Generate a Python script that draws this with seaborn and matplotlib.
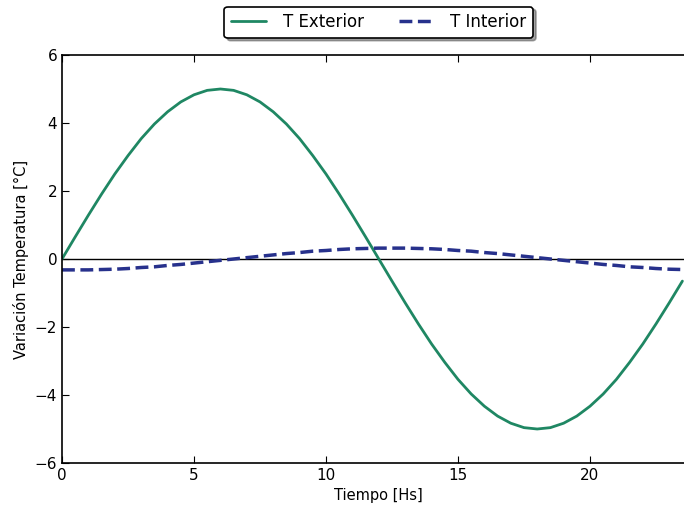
import numpy as np
import pandas as pd
import matplotlib
matplotlib.use("Agg")
import matplotlib.pyplot as plt
import seaborn as sns

# hora del dia, cada media hora
horas = np.arange(0, 24, 0.5)

t_exterior = [0.00, 0.65, 1.29, 1.91, 2.50, 3.04, 3.54, 3.97, 4.33, 4.62, 4.83, 4.96,
              5.00, 4.96, 4.83, 4.62, 4.33, 3.97, 3.54, 3.04, 2.50, 1.91, 1.29, 0.65,
              0.00, -0.65, -1.29, -1.91, -2.50, -3.04, -3.54, -3.97, -4.33, -4.62, -4.83, -4.96,
              -5.00, -4.96, -4.83, -4.62, -4.33, -3.97, -3.54, -3.04, -2.50, -1.91, -1.29, -0.65]

t_interior = [-0.32, -0.32, -0.32, -0.31, -0.30, -0.28, -0.25, -0.23, -0.19, -0.16, -0.12, -0.08,
              -0.04, 0.00, 0.04, 0.08, 0.12, 0.16, 0.19, 0.23, 0.25, 0.28, 0.30, 0.31,
              0.32, 0.32, 0.32, 0.31, 0.30, 0.28, 0.25, 0.23, 0.19, 0.16, 0.12, 0.08,
              0.04, 0.00, -0.04, -0.08, -0.12, -0.16, -0.19, -0.23, -0.25, -0.28, -0.30, -0.31]

df = pd.DataFrame({'hora': horas, 'ext': t_exterior, 'int': t_interior})

sns.set_style("ticks")
plt.rcParams['font.family'] = ['DejaVu Sans']
plt.rcParams['xtick.direction'] = 'in'
plt.rcParams['ytick.direction'] = 'in'
plt.rcParams['text.color'] = 'black'
plt.rcParams['axes.labelcolor'] = 'black'
plt.rcParams['xtick.labelcolor'] = 'black'
plt.rcParams['ytick.labelcolor'] = 'black'

fig = plt.figure(figsize=(6.84, 5.11), dpi=100)
ax = fig.add_axes([62/684, 48/511, 633.6/684, 408/511])

sns.lineplot(data=df, x='hora', y='ext', ax=ax, color='#1f8763', linewidth=2, label='T Exterior')
sns.lineplot(data=df, x='hora', y='int', ax=ax, color='#27318c', linewidth=2.5,
             linestyle='--', label='T Interior')
ax.axhline(0, color='black', linewidth=1, zorder=0)

ax.set_xlim(0, 24)
ax.set_ylim(-6, 6)
ax.set_xticks([0, 5, 10, 15, 20])
ax.set_yticks([-6, -4, -2, 0, 2, 4, 6])
ax.tick_params(top=True, right=True, labelsize=11, length=5, width=0.8, color='black')
for s in ax.spines.values():
    s.set_color('black')
    s.set_linewidth(1.2)

ax.set_xlabel('Tiempo [Hs]', fontsize=10.5)
ax.set_ylabel('Variación Temperatura [°C]', fontsize=10.5)

leg = ax.legend(loc='lower center', bbox_to_anchor=(0.5, 1.042), ncol=2, fontsize=12,
                frameon=True, shadow=True, fancybox=True, borderaxespad=0,
                handlelength=2.1, handletextpad=1.0, columnspacing=2.1)
leg.get_frame().set_edgecolor('black')
leg.get_frame().set_linewidth(1.2)

fig.savefig('out.png', dpi=100)
